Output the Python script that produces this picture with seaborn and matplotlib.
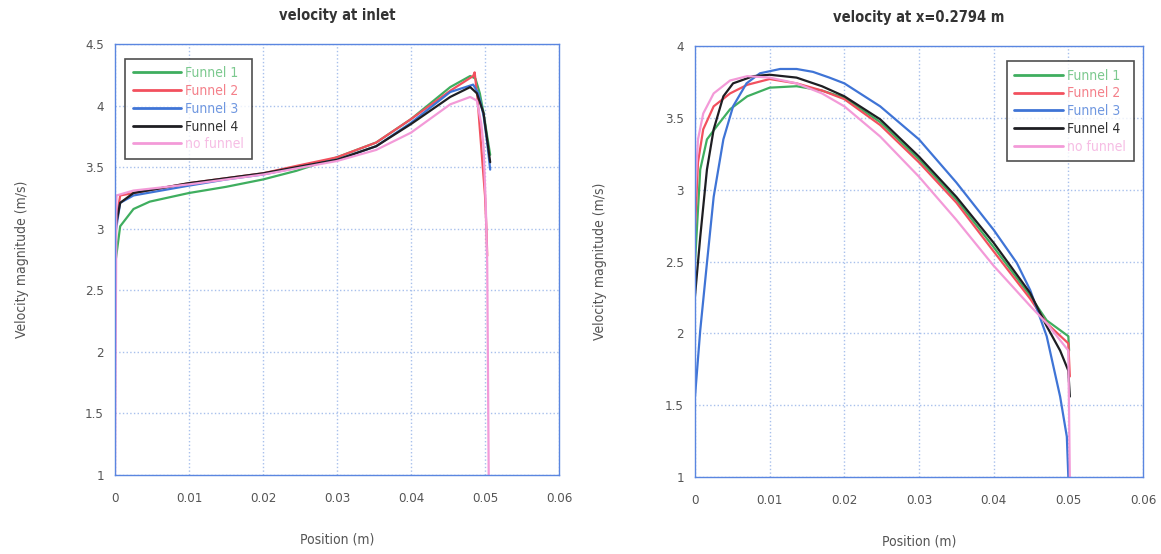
import numpy as np
import pandas as pd
import matplotlib
matplotlib.use("Agg")
import matplotlib.pyplot as plt
import seaborn as sns

sns.set_style("white")
plt.rcParams['font.family'] = ['Liberation Sans Narrow', 'DejaVu Sans', 'Liberation Sans']
plt.rcParams['font.stretch'] = 'condensed'

series_names = ["Funnel 1", "Funnel 2", "Funnel 3", "Funnel 4", "no funnel"]
colors = ["#3fae5f", "#f2505e", "#3f74d6", "#1e1e22", "#f39ad8"]
legend_text_colors = ["#7cc98f", "#f4808a", "#6f97e0", "#333333", "#f6bde4"]

# ---- velocity at inlet ----
inlet_f1_x = [0.0, 0.0007, 0.0025, 0.0047, 0.01, 0.015, 0.02, 0.0245, 0.03, 0.0353, 0.04, 0.0453, 0.048, 0.0487, 0.0493, 0.0498, 0.0503, 0.0507]
inlet_f1_y = [2.70, 3.02, 3.16, 3.22, 3.29, 3.34, 3.40, 3.47, 3.58, 3.70, 3.89, 4.15, 4.24, 4.22, 4.10, 3.94, 3.75, 3.60]
inlet_f2_x = [0.0, 0.0007, 0.0025, 0.01, 0.015, 0.02, 0.0245, 0.03, 0.0353, 0.04, 0.0453, 0.0484, 0.0486, 0.0490, 0.0493, 0.0497, 0.0500, 0.0502, 0.0503]
inlet_f2_y = [2.99, 3.27, 3.29, 3.37, 3.41, 3.45, 3.51, 3.58, 3.70, 3.89, 4.12, 4.24, 4.27, 4.05, 3.81, 3.50, 3.27, 2.99, 2.78]
inlet_f3_x = [0.0, 0.0007, 0.0025, 0.01, 0.015, 0.02, 0.03, 0.0353, 0.04, 0.0453, 0.0484, 0.0491, 0.0498, 0.0503, 0.0507]
inlet_f3_y = [2.94, 3.21, 3.27, 3.35, 3.40, 3.44, 3.56, 3.67, 3.86, 4.11, 4.17, 4.10, 3.92, 3.70, 3.48]
inlet_f4_x = [0.0, 0.0007, 0.0025, 0.01, 0.015, 0.02, 0.03, 0.0353, 0.04, 0.0453, 0.048, 0.0489, 0.0498, 0.0503, 0.0507]
inlet_f4_y = [2.99, 3.21, 3.29, 3.37, 3.41, 3.45, 3.56, 3.67, 3.85, 4.07, 4.15, 4.10, 3.94, 3.72, 3.54]
inlet_nf_x = [0.0, 0.0002, 0.0025, 0.01, 0.015, 0.02, 0.03, 0.0353, 0.04, 0.0453, 0.048, 0.0489, 0.0495, 0.0498, 0.0501, 0.0503, 0.0505]
inlet_nf_y = [1.00, 3.27, 3.31, 3.36, 3.40, 3.44, 3.55, 3.64, 3.78, 4.01, 4.07, 4.04, 3.85, 3.67, 3.20, 2.72, 1.00]

# ---- velocity at x=0.2794 m ----
mid_f1_x = [0.0, 0.0007, 0.0016, 0.0029, 0.0047, 0.007, 0.01, 0.0136, 0.017, 0.02, 0.0248, 0.03, 0.035, 0.04, 0.0449, 0.0471, 0.05, 0.0501]
mid_f1_y = [2.49, 3.14, 3.35, 3.44, 3.56, 3.65, 3.71, 3.72, 3.69, 3.64, 3.47, 3.21, 2.93, 2.60, 2.26, 2.09, 1.98, 1.88]
mid_f2_x = [0.0, 0.0004, 0.0011, 0.0025, 0.0047, 0.007, 0.01, 0.0136, 0.017, 0.02, 0.0248, 0.03, 0.035, 0.04, 0.0449, 0.0471, 0.05, 0.0502]
mid_f2_y = [2.72, 3.19, 3.42, 3.58, 3.67, 3.73, 3.77, 3.74, 3.69, 3.63, 3.45, 3.19, 2.91, 2.57, 2.24, 2.07, 1.93, 1.70]
mid_f3_x = [0.0, 0.0007, 0.0016, 0.0025, 0.0038, 0.0051, 0.0069, 0.0087, 0.0114, 0.0136, 0.0158, 0.018, 0.02, 0.0248, 0.03, 0.035, 0.04, 0.0431, 0.0449, 0.0471, 0.0489, 0.0498, 0.05]
mid_f3_y = [1.56, 2.02, 2.49, 2.95, 3.35, 3.58, 3.74, 3.81, 3.84, 3.84, 3.82, 3.78, 3.74, 3.58, 3.35, 3.05, 2.72, 2.49, 2.30, 1.98, 1.56, 1.28, 1.00]
mid_f4_x = [0.0, 0.0007, 0.0016, 0.0025, 0.0038, 0.0051, 0.0078, 0.01, 0.0136, 0.017, 0.02, 0.0248, 0.03, 0.035, 0.04, 0.0449, 0.0471, 0.0489, 0.05, 0.0502]
mid_f4_y = [2.26, 2.67, 3.14, 3.42, 3.65, 3.74, 3.79, 3.80, 3.78, 3.72, 3.65, 3.49, 3.23, 2.95, 2.63, 2.28, 2.05, 1.88, 1.74, 1.56]
mid_nf_x = [0.0, 0.0004, 0.0011, 0.0025, 0.0047, 0.007, 0.01, 0.0136, 0.017, 0.02, 0.0248, 0.03, 0.035, 0.04, 0.0449, 0.0471, 0.05, 0.0502]
mid_nf_y = [2.95, 3.35, 3.53, 3.67, 3.76, 3.79, 3.78, 3.74, 3.67, 3.58, 3.37, 3.09, 2.79, 2.47, 2.19, 2.07, 1.88, 1.00]

x_ticks = [0, 0.01, 0.02, 0.03, 0.04, 0.05, 0.06]
x_tick_labels = ["0", "0.01", "0.02", "0.03", "0.04", "0.05", "0.06"]
inlet_y_ticks = [1, 1.5, 2, 2.5, 3, 3.5, 4, 4.5]
inlet_y_labels = ["1", "1.5", "2", "2.5", "3", "3.5", "4", "4.5"]
mid_y_ticks = [1, 1.5, 2, 2.5, 3, 3.5, 4]
mid_y_labels = ["1", "1.5", "2", "2.5", "3", "3.5", "4"]


def make_df(xs, ys):
    frames = []
    for name, x, y in zip(series_names, xs, ys):
        frames.append(pd.DataFrame({"Position": x, "Velocity": y, "Series": name}))
    return pd.concat(frames, ignore_index=True)


df_inlet = make_df([inlet_f1_x, inlet_f2_x, inlet_f3_x, inlet_f4_x, inlet_nf_x],
                   [inlet_f1_y, inlet_f2_y, inlet_f3_y, inlet_f4_y, inlet_nf_y])
df_mid = make_df([mid_f1_x, mid_f2_x, mid_f3_x, mid_f4_x, mid_nf_x],
                 [mid_f1_y, mid_f2_y, mid_f3_y, mid_f4_y, mid_nf_y])

fig = plt.figure(figsize=(11.61, 5.54), dpi=100)
ax1 = fig.add_axes([115 / 1161, 79 / 554, 444 / 1161, 431 / 554])
ax2 = fig.add_axes([695 / 1161, 77 / 554, 448 / 1161, 431 / 554])

palette = dict(zip(series_names, colors))
spine_color = "#5a86e0"
grid_color = "#a8c0ec"
text_color = "#555555"

for ax, df, yticks, ylabels, ylim, title, legend_anchor, ylpad in [
    (ax1, df_inlet, inlet_y_ticks, inlet_y_labels, (1, 4.5), "velocity at inlet", (0.0225, 0.966), 40),
    (ax2, df_mid, mid_y_ticks, mid_y_labels, (1, 4), "velocity at x=0.2794 m", (0.696, 0.965), 42),
]:
    sns.lineplot(data=df, x="Position", y="Velocity", hue="Series", palette=palette,
                 hue_order=series_names, sort=False, estimator=None, units="Series",
                 linewidth=1.6, ax=ax, legend=False)
    ax.set_xlim(0, 0.06)
    ax.set_ylim(*ylim)
    ax.set_xticks(x_ticks)
    ax.set_xticklabels(x_tick_labels)
    ax.set_yticks(yticks)
    ax.set_yticklabels(ylabels)
    ax.tick_params(axis="x", labelsize=9.5, colors=text_color, length=0, pad=12)
    ax.tick_params(axis="y", labelsize=9.5, colors=text_color, length=0, pad=8)
    ax.grid(True, color=grid_color, linestyle=":", linewidth=1.0)
    for s in ax.spines.values():
        s.set_color(spine_color)
        s.set_linewidth(1.0)
        s.set_visible(True)
    ax.set_xlabel("Position (m)", fontsize=10, color=text_color, labelpad=20)
    ax.set_ylabel("Velocity magnitude (m/s)", fontsize=10, color=text_color, labelpad=ylpad)
    ax.set_title(title, fontsize=10.5, color="#333333", pad=17, fontweight="bold")
    handles = [plt.Line2D([], [], color=c, linewidth=2) for c in colors]
    leg = ax.legend(handles, series_names, loc="upper left", bbox_to_anchor=legend_anchor,
                    borderaxespad=0, frameon=True, fancybox=False, fontsize=10,
                    handlelength=3.5, handletextpad=0.3, labelspacing=0.27, borderpad=0.55,
                    labelcolor=legend_text_colors)
    leg.get_frame().set_edgecolor("#222222")
    leg.get_frame().set_linewidth(1.2)

fig.savefig("out.png", dpi=100)
